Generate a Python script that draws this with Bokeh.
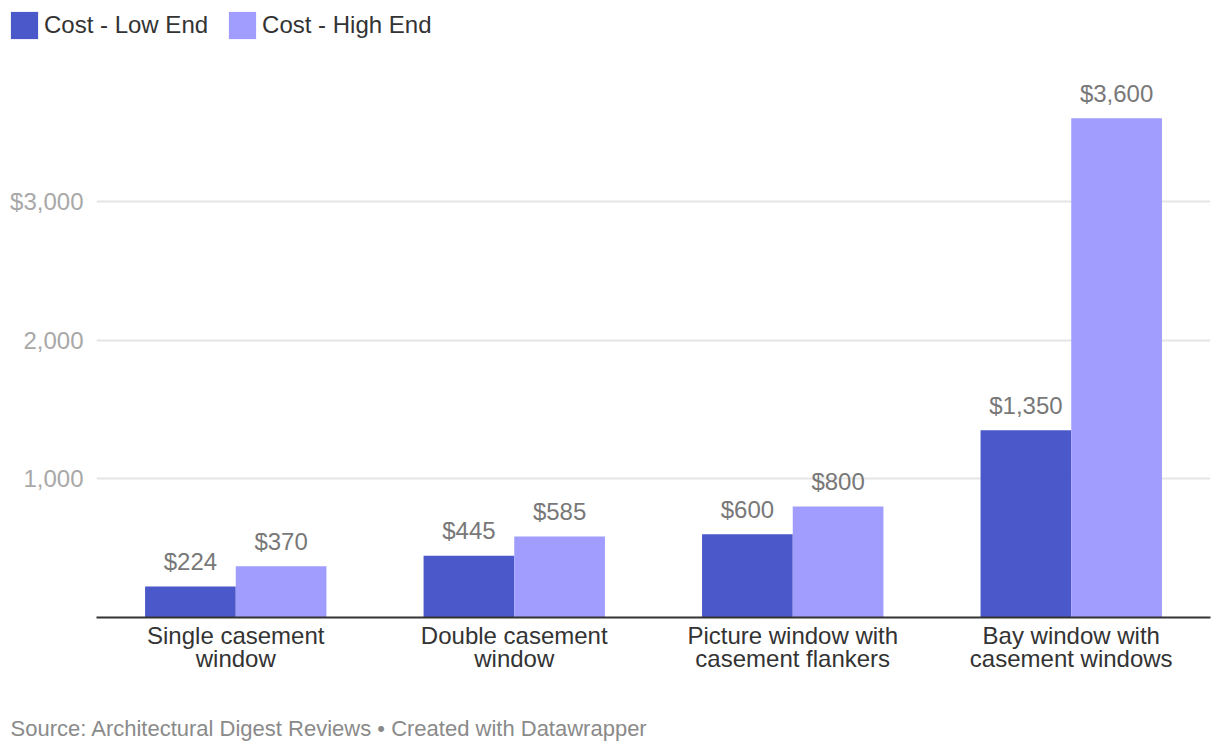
from bokeh.plotting import figure
from bokeh.layouts import column
from bokeh.models import (ColumnDataSource, FactorRange, Range1d, FixedTicker,
                          NumeralTickFormatter, Legend, LegendItem, Label)
from bokeh.transform import dodge
from bokeh.core.properties import value
from bokeh.embed import file_html
from bokeh.resources import INLINE

# ---- data ----
categories = [
    "Single casement\nwindow",
    "Double casement\nwindow",
    "Picture window with\ncasement flankers",
    "Bay window with\ncasement windows",
]
cost_low = [224, 445, 600, 1350]
cost_high = [370, 585, 800, 3600]
series_names = ["Cost - Low End", "Cost - High End"]
y_ticks = [1000, 2000, 3000]
source_note = "Source: Architectural Digest Reviews \u2022 Created with Datawrapper"

# ---- style ----
FONT = "Liberation Sans"
LOW_COLOR = "#4b58c9"
HIGH_COLOR = "#a09dff"
BAR_W = 0.3256
OFF = BAR_W / 2
W = 1220
TOP_H = 50
FOOT_H = 54
MAIN_H = 754 - TOP_H - FOOT_H

src = ColumnDataSource(dict(
    cat=categories,
    low=cost_low,
    high=cost_high,
    low_label=[f"${v:,}" for v in cost_low],
    high_label=[f"${v:,}" for v in cost_high],
))


def strip(height, **kw):
    f = figure(width=W, height=height, output_backend="svg", toolbar_location=None,
               x_axis_type=None, y_axis_type=None,
               min_border_left=0, min_border_right=0,
               min_border_top=0, min_border_bottom=0, **kw)
    f.outline_line_color = None
    f.grid.visible = False
    f.frame_align = False
    return f


# ---- legend strip (hidden series renderers; only their legend swatches show) ----
leg_fig = strip(TOP_H, x_range=FactorRange(factors=categories), y_range=Range1d(-2, -1))
lr_low = leg_fig.vbar(x="cat", top="low", width=BAR_W, source=src,
                      fill_color=LOW_COLOR, line_color=None, visible=False)
lr_high = leg_fig.vbar(x="cat", top="high", width=BAR_W, source=src,
                       fill_color=HIGH_COLOR, line_color=None, visible=False)
legend = Legend(
    items=[LegendItem(label=series_names[0], renderers=[lr_low]),
           LegendItem(label=series_names[1], renderers=[lr_high])],
    orientation="horizontal",
    location=(7, TOP_H - 8 - 34),
    glyph_width=34, glyph_height=34, label_height=34,
    label_standoff=3, spacing=17, padding=0, margin=0,
    border_line_color=None, background_fill_alpha=0,
    inactive_fill_alpha=0,
    label_text_font=FONT, label_text_font_size="24px",
    label_text_color="#333333",
)
leg_fig.add_layout(legend)

# ---- main chart ----
p = figure(
    x_range=FactorRange(factors=categories),
    y_range=Range1d(0, 4089),
    width=W, height=MAIN_H,
    output_backend="svg", toolbar_location=None,
    min_border_left=96, min_border_right=10,
    min_border_top=0, min_border_bottom=MAIN_H - 567,
)
p.frame_align = False
p.x_range.range_padding = 0
p.outline_line_color = None
p.background_fill_color = "white"
p.border_fill_color = "white"

p.vbar(x=dodge("cat", -OFF, range=p.x_range), top="low", width=BAR_W,
       source=src, fill_color=LOW_COLOR, line_color=None)
p.vbar(x=dodge("cat", OFF, range=p.x_range), top="high", width=BAR_W,
       source=src, fill_color=HIGH_COLOR, line_color=None)

for col, lab, off in (("low", "low_label", -OFF), ("high", "high_label", OFF)):
    p.text(x=dodge("cat", off, range=p.x_range), y=col, text=lab, source=src,
           text_align="center", text_baseline="alphabetic", y_offset=-25,
           text_font=value(FONT), text_font_size="24px", text_color="#787878")

p.yaxis.ticker = FixedTicker(ticks=y_ticks)
p.ygrid.ticker = FixedTicker(ticks=y_ticks)
p.yaxis.formatter = NumeralTickFormatter(format="0,0")
p.yaxis.major_label_overrides = {y_ticks[-1]: f"${y_ticks[-1]:,}"}
p.yaxis.axis_line_color = None
p.yaxis.major_tick_line_color = None
p.yaxis.minor_tick_line_color = None
p.yaxis.major_label_standoff = 7
p.yaxis.major_label_text_font = FONT
p.yaxis.major_label_text_font_size = "24px"
p.yaxis.major_label_text_color = "#a8a8a8"

p.xaxis.axis_line_color = "#333333"
p.xaxis.axis_line_width = 2
p.xaxis.major_tick_line_color = None
p.xaxis.minor_tick_line_color = None
p.xaxis.major_label_standoff = -2
p.xaxis.major_label_text_font = FONT
p.xaxis.major_label_text_font_size = "24px"
p.xaxis.major_label_text_color = "#333333"
p.xaxis.major_label_text_line_height = 0.87

p.xgrid.grid_line_color = None
p.ygrid.grid_line_color = "#e5e5e5"
p.ygrid.grid_line_width = 2

# ---- footer strip ----
foot_fig = strip(FOOT_H, x_range=Range1d(0, 1), y_range=Range1d(0, 1))
foot_fig.add_layout(Label(x=10, y=26, x_units="screen", y_units="screen",
                          text=source_note, text_align="left", text_baseline="middle",
                          text_font=FONT, text_font_size="22px",
                          text_color="#8a8a8a"))

layout = column(leg_fig, p, foot_fig, spacing=0)
open("out.html", "w").write(file_html(layout, INLINE))
